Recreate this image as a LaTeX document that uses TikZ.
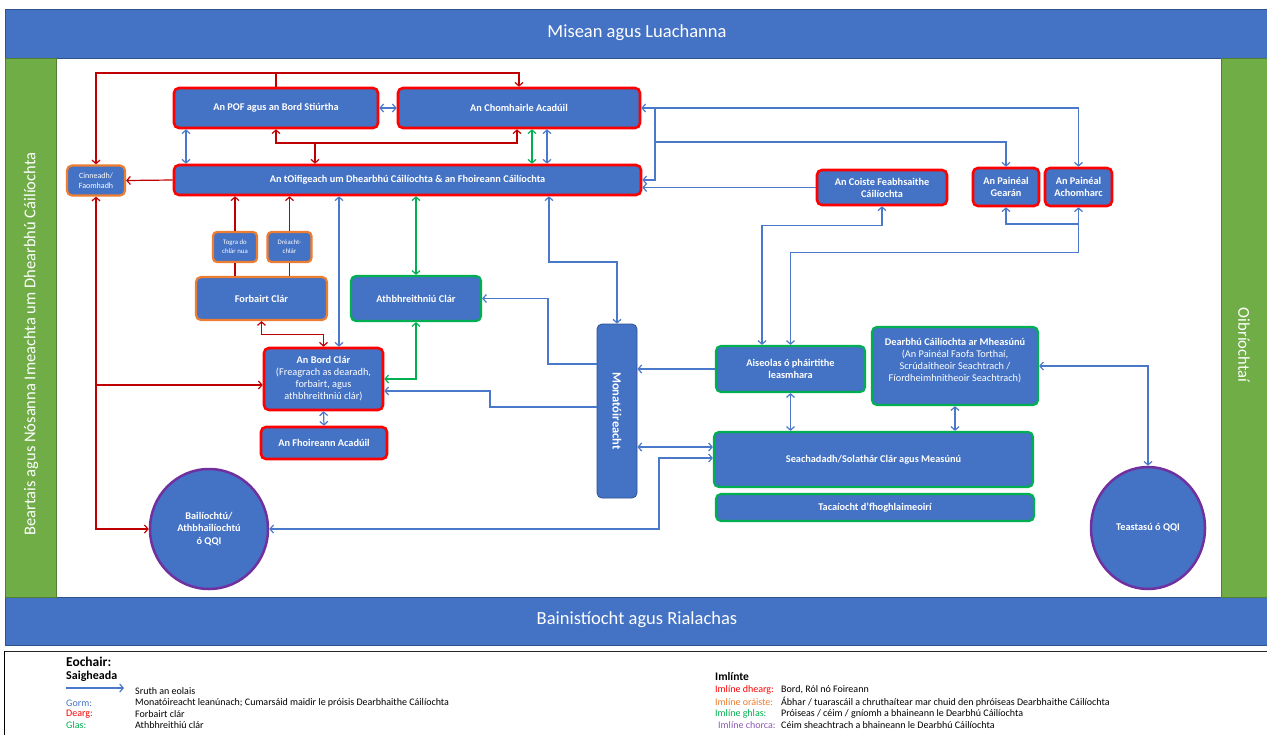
\documentclass[tikz,border=0pt]{standalone}
\usepackage{fontspec}
\usepackage{graphicx}
\setmainfont{Carlito}
\usetikzlibrary{arrows.meta,shapes.geometric,calc}
\definecolor{qblue}{HTML}{4472C4}
\definecolor{qdblue}{HTML}{2F528F}
\definecolor{qred}{HTML}{FF0000}
\definecolor{qdred}{HTML}{C00000}
\definecolor{qorange}{HTML}{ED7D31}
\definecolor{qgreen}{HTML}{00B050}
\definecolor{qpurple}{HTML}{7030A0}
\definecolor{qlgreen}{HTML}{70AD47}
\definecolor{qdgreen}{HTML}{507E32}
\definecolor{qarrow}{HTML}{4A78CB}
\begin{document}
\begin{tikzpicture}[x=1pt,y=-1pt,
 box/.style={rectangle, rounded corners=5pt, fill=qblue, text=white, align=center, inner sep=1pt, font=\bfseries\fontsize{10.3}{12}\selectfont},
 redbox/.style={box, draw=qred, line width=2.6pt},
 orbox/.style={box, draw=qorange, line width=2.2pt},
 grbox/.style={box, draw=qgreen, line width=2.2pt},
 purcirc/.style={ellipse, fill=qblue, draw=qpurple, line width=2.5pt, text=white, align=center, inner sep=0pt, font=\bfseries\fontsize{10.3}{12.5}\selectfont},
 band/.style={rectangle, fill=qblue, draw=qdblue, line width=0.8pt, inner sep=0pt},
 side/.style={rectangle, fill=qlgreen, draw=qdgreen, line width=0.8pt, inner sep=0pt},
 bandtext/.style={text=white, inner sep=0pt, font=\fontsize{18.5}{20}\selectfont},
 conn/.style={line width=1.2pt, >={Straight Barb[length=3.5pt,width=8pt]}},
 bl/.style={conn, draw=qarrow},
 rd/.style={conn, draw=qdred},
 gn/.style={conn, draw=qgreen},
 leg/.style={inner sep=0pt, anchor=west, font=\fontsize{10}{11}\selectfont}
]
\useasboundingbox (0,0) rectangle (1267,734);
\fill[white] (0,0) rectangle (1267,734);

% frame bands
\node[band, minimum width=1265pt, minimum height=49pt] (topband) at (637.5,33.5) {};
\node[bandtext] (toptext) at (637,33) {Misean agus Luachanna};
\node[band, minimum width=1265pt, minimum height=48pt] (botband) at (637.5,621) {};
\node[bandtext] (bottext) at (637,620) {Bainistíocht agus Rialachas};
\node[side, minimum width=51pt, minimum height=539pt] (lbar) at (30.5,327.5) {};
\node[bandtext, rotate=90, font=\fontsize{16.5}{18}\selectfont] (lbartext) at (31,344) {Beartais agus Nósanna Imeachta um Dhearbhú Cáilíochta};
\node[side, minimum width=49pt, minimum height=539pt] (rbar) at (1245.5,327.5) {};
\node[bandtext, rotate=-90, font=\fontsize{16.5}{18}\selectfont] (rbartext) at (1244,345) {Oibríochtaí};

% legend frame
\draw[black!85, line width=1.8pt] (4,651.5) -- (1270,651.5);
\draw[black, line width=0.8pt] (4.5,651) -- (4.5,736);

% nodes
\node[redbox, minimum width=204pt, minimum height=40pt] (pof) at (276,108) {An POF agus an Bord Stiúrtha};
\node[redbox, minimum width=242pt, minimum height=40pt] (cha) at (519,108) {An Chomhairle Acadúil};
\node[redbox, minimum width=467pt, minimum height=30pt] (oif) at (407.5,180) {An tOifigeach um Dhearbhú Cáilíochta \& an Fhoireann Cáilíochta};
\node[orbox, minimum width=58pt, minimum height=30pt, font=\fontsize{8}{10}\selectfont] (cin) at (96,180.5) {Cinneadh/\\Faomhadh};
\node[orbox, minimum width=44pt, minimum height=30pt, font=\fontsize{6.8}{9}\selectfont, rounded corners=4pt] (togra) at (235,247) {Togra do\\chlár nua};
\node[orbox, minimum width=44pt, minimum height=30pt, font=\fontsize{6.8}{9}\selectfont, rounded corners=4pt] (drea) at (289.5,247) {Dréacht-\\chlár};
\node[orbox, minimum width=131pt, minimum height=43pt] (forb) at (261.5,298.5) {Forbairt Clár};
\node[grbox, minimum width=130pt, minimum height=45pt] (athb) at (416,298.5) {Athbhreithniú Clár};
\node[redbox, minimum width=119pt, minimum height=62pt] (bord) at (323.5,379) {An Bord Clár\\{\mdseries(Freagrach as dearadh,}\\{\mdseries forbairt, agus}\\{\mdseries athbhreithniú clár)}};
\node[redbox, minimum width=126pt, minimum height=32pt] (fhoi) at (324,443) {An Fhoireann Acadúil};
\node[box, draw=qdblue, line width=0.8pt, minimum width=40pt, minimum height=174pt, font=\bfseries\fontsize{12.5}{14}\selectfont] (mon) at (617,411) {\rotatebox{-90}{Monatóireacht}};
\node[redbox, minimum width=130pt, minimum height=35pt] (coiste) at (882,187.5) {An Coiste Feabhsaithe\\Cáilíochta};
\node[redbox, minimum width=66pt, minimum height=38pt] (gear) at (1006,187) {An Painéal\\Gearán};
\node[redbox, minimum width=67pt, minimum height=38pt] (acho) at (1078.5,187) {An Painéal\\Achomharc};
\node[grbox, minimum width=149pt, minimum height=46pt] (ais) at (790.5,369) {Aiseolas ó pháirtithe\\leasmhara};
\node[grbox, minimum width=166pt, minimum height=78pt] (dear) at (955,366) {Dearbhú Cáilíochta ar Mheasúnú\\{\mdseries(An Painéal Faofa Torthaí,}\\{\mdseries Scrúdaitheoir Seachtrach /}\\{\mdseries Fíordheimhnitheoir Seachtrach)}\\[1pt]};
\node[grbox, minimum width=319pt, minimum height=55pt] (seach) at (873.5,459.5) {Seachadadh/Solathár Clár agus Measúnú};
\node[grbox, minimum width=318pt, minimum height=27pt] (taca) at (875,507.5) {Tacaíocht d'fhoghlaimeoirí};
\node[purcirc, minimum width=118pt, minimum height=120pt] (bail) at (209,529) {Bailíochtú/\\Athbhailíochtú\\ó QQI};
\node[purcirc, minimum width=114pt, minimum height=122pt] (teas) at (1148,528) {Teastasú ó QQI};

% helper coordinates
\coordinate (rt) at (276,73);
\coordinate (rm) at (276,143);
\coordinate (rm2) at (517,143);
\coordinate (rm3) at (315,143);
\coordinate (lv) at (97,385);
\coordinate (x186) at (186,0);
\coordinate (x547) at (547,0);
\coordinate (x532) at (532,0);
\coordinate (x339) at (339,0);
\coordinate (x762) at (762,0);
\coordinate (b1) at (655,108);
\coordinate (b2) at (655,142);
\coordinate (g1) at (0,224);
\coordinate (m2) at (549,262);
\coordinate (m3) at (548,364);
\coordinate (m4) at (490,407);
\coordinate (m5) at (490,391);
\coordinate (y447) at (0,447);
\coordinate (s1) at (659,458);

% red connectors
\draw[rd,->] (pof.north) -- (rt) -| (cin.north);
\draw[rd,->] (rt) -| (cha.north);
\draw[rd,<->] (pof.south) -- (rm) -- (rm2) -- (rm2 |- cha.south);
\draw[rd,->] (rm3) -- (rm3 |- oif.north);
\draw[rd,->] (oif.west) -- (cin.east);
\draw[rd] (togra.south |- forb.north) -- (togra.south);
\draw[rd,->] (togra.north) -- (togra.north |- oif.south);
\draw[rd] (drea.south |- forb.north) -- (drea.south);
\draw[rd,->] (drea.north) -- (drea.north |- oif.south);
\draw[rd,<->] (forb.south) -- ++(0,13) -| (bord.north);
\draw[rd,<->] (cin.south) -- (cin.south |- bail.west) -- (bail.west);
\draw[rd,->] (cin.south |- lv) -- (lv -| bord.west);

% blue connectors
\draw[bl,<->] (pof.east) -- (cha.west);
\draw[bl,<->] (pof.south -| x186) -- (oif.north -| x186);
\draw[bl,<->] (cha.south -| x547) -- (oif.north -| x547);
\draw[bl,<->] (cha.east) -| (acho.north);
\draw[bl,->] (b1) |- (oif.east);
\draw[bl,->] (b2) -| (gear.north);
\draw[bl,->] (coiste.west) -- (coiste.west -| oif.east);
\draw[bl,<->] (coiste.south) -- ++(0,19) -| (ais.north -| x762);
\draw[bl,<->] (acho.south) -- ++(0,45) -| (ais.north);
\draw[bl,->] (acho.south |- g1) -| (gear.south);
\draw[bl,<->] (oif.south -| m2) -- (m2) -| (mon.north);
\draw[bl,->] (m3 -| mon.west) -- (m3) |- (athb.east);
\draw[bl,->] (m4 -| mon.west) -- (m4) -- (m5) -- (m5 -| bord.east);
\draw[bl,<->] (bord.south) -- (fhoi.north);
\draw[bl,<->] (oif.south -| x339) -- (bord.north -| x339);
\draw[bl,->] (ais.west) -- (ais.west -| mon.east);
\draw[bl,<->] (ais.south) -- (ais.south |- seach.north);
\draw[bl,<->] (dear.south) -- (dear.south |- seach.north);
\draw[bl,<->] (dear.east) -| (teas.north);
\draw[bl,<->] (mon.east |- y447) -- (seach.west |- y447);
\draw[bl,<->] (bail.east) -| (s1) -- (s1 -| seach.west);

% green connectors
\draw[gn,<->] (cha.south -| x532) -- (oif.north -| x532);
\draw[gn,<->] (oif.south -| athb.north) -- (athb.north);
\draw[gn,<->] (athb.south) |- (bord.east);

% legend
\node[leg, font=\bfseries\fontsize{13.5}{15}\selectfont] (eoch) at (66,662) {Eochair:};
\node[leg, font=\bfseries\fontsize{12}{13}\selectfont] (saig) at (66,676) {Saigheada};
\coordinate (la1) at (66,688);
\coordinate (la2) at (124,688);
\draw[bl,->] (la1) -- (la2);
\node[leg] (sruth) at (135,691) {Sruth an eolais};
\node[leg, text=qblue] (gorm) at (66,703) {Gorm:};
\node[leg] (gormt) at (135,703) {Monatóireacht leanúnach; Cumarsáid maidir le próisis Dearbhaithe Cáilíochta};
\node[leg, text=qred] (dearg) at (66,714) {Dearg:};
\node[leg] (deargt) at (135,714) {Forbairt clár};
\node[leg, text=qgreen] (glas) at (66,725) {Glas:};
\node[leg] (glast) at (135,725) {Athbhreithiú clár};
\node[leg, font=\bfseries\fontsize{11.5}{13}\selectfont] (imlinte) at (715,676) {Imlínte};
\node[leg, text=qred] (im1) at (715,690) {Imlíne dhearg:};
\node[leg] (im1t) at (781,690) {Bord, Ról nó Foireann};
\node[leg, text=qorange] (im2) at (715,702) {Imlíne oráiste:};
\node[leg] (im2t) at (781,702) {Ábhar / tuarascáil a chruthaítear mar chuid den phróiseas Dearbhaithe Cáilíochta};
\node[leg, text=qgreen] (im3) at (715,714) {Imlíne ghlas:};
\node[leg] (im3t) at (781,714) {Próiseas / céim / gníomh a bhaineann le Dearbhú Cáilíochta};
\node[leg, text=qpurple!80] (im4) at (718,725) {Imlíne chorca:};
\node[leg] (im4t) at (781,725) {Céim sheachtrach a bhaineann le Dearbhú Cáilíochta};
\end{tikzpicture}
\end{document}
